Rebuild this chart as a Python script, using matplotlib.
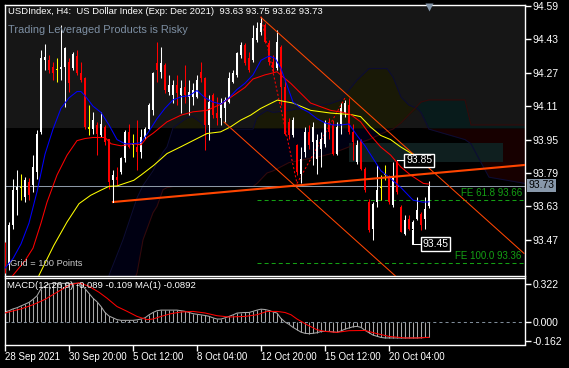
import numpy as np
import matplotlib
matplotlib.use("Agg")
import matplotlib.pyplot as plt
from matplotlib.patches import Rectangle

plt.rcParams['font.family'] = ['Liberation Sans', 'DejaVu Sans']
plt.rcParams['lines.scale_dashes'] = False

W, H = 569, 368

# ---- price bars (H4), index 0..106 ----
opens = [93.443, 93.347, 93.539, 93.707, 93.720, 93.675, 93.747, 93.731, 93.795, 93.987,
         94.331, 94.331, 94.299, 94.283, 94.288, 94.299, 94.323, 94.291, 94.352, 94.267,
         94.243, 94.003, 94.003, 94.019, 93.971, 94.011, 93.955, 93.755, 93.771, 93.795,
         93.860, 93.987, 93.924, 93.916, 93.892, 93.963, 94.003, 94.091, 94.315, 94.275,
         94.307, 94.179, 94.163, 94.211, 94.163, 94.203, 94.155, 94.155, 94.155, 94.275,
         94.243, 94.019, 94.163, 94.075, 94.051, 94.099, 94.131, 94.227, 94.259, 94.355,
         94.403, 94.339, 94.331, 94.427, 94.467, 94.499, 94.411, 94.323, 94.291, 94.395,
         94.200, 94.035, 93.971, 93.923, 93.787, 93.891, 93.987, 93.939, 93.859, 93.907,
         93.931, 94.035, 94.019, 93.883, 94.027, 94.075, 94.115, 93.987, 93.843, 93.947,
         93.811, 93.651, 93.523, 93.651, 93.720, 93.780, 93.771, 93.635, 93.843, 93.627,
         93.499, 93.571, 93.523, 93.571, 93.595, 93.571, 93.630]
highs = [93.459, 93.555, 93.763, 93.803, 93.787, 93.771, 93.766, 93.875, 93.995, 94.379,
         94.406, 94.355, 94.323, 94.339, 94.499, 94.395, 94.339, 94.371, 94.379, 94.323,
         94.251, 94.118, 94.083, 94.035, 94.083, 94.019, 93.955, 93.803, 93.819, 93.868,
         93.995, 94.027, 93.979, 94.043, 94.003, 94.011, 94.123, 94.275, 94.419, 94.395,
         94.315, 94.259, 94.235, 94.259, 94.235, 94.307, 94.235, 94.219, 94.259, 94.323,
         94.251, 94.163, 94.171, 94.155, 94.147, 94.155, 94.275, 94.283, 94.371, 94.419,
         94.411, 94.371, 94.499, 94.515, 94.539, 94.507, 94.427, 94.355, 94.475, 94.403,
         94.235, 94.051, 94.059, 93.930, 93.915, 94.011, 94.019, 94.035, 93.979, 93.987,
         94.043, 94.051, 94.043, 94.035, 94.123, 94.139, 94.147, 94.027, 93.947, 93.955,
         93.819, 93.667, 93.651, 93.827, 93.780, 93.827, 93.779, 93.843, 93.851, 93.635,
         93.587, 93.587, 93.563, 93.675, 93.603, 93.675, 93.750]
lows = [93.310, 93.323, 93.523, 93.587, 93.659, 93.651, 93.659, 93.699, 93.763, 93.979,
        94.283, 94.267, 94.235, 94.227, 94.235, 94.107, 94.179, 94.283, 94.259, 94.227,
        94.003, 93.971, 93.979, 93.876, 93.963, 93.923, 93.715, 93.651, 93.731, 93.787,
        93.844, 93.908, 93.868, 93.803, 93.860, 93.955, 93.995, 94.067, 94.227, 94.243,
        94.171, 94.163, 94.123, 94.115, 94.075, 94.123, 94.067, 94.115, 94.147, 94.227,
        93.899, 93.947, 94.051, 94.019, 94.019, 94.035, 94.123, 94.219, 94.251, 94.339,
        94.307, 94.275, 94.323, 94.419, 94.451, 94.411, 94.307, 94.275, 94.283, 94.115,
        93.971, 93.955, 93.963, 93.780, 93.740, 93.867, 93.907, 93.827, 93.787, 93.819,
        93.915, 93.955, 93.875, 93.875, 93.979, 94.059, 93.979, 93.851, 93.835, 93.803,
        93.699, 93.507, 93.467, 93.627, 93.660, 93.755, 93.643, 93.627, 93.691, 93.507,
        93.491, 93.515, 93.451, 93.563, 93.515, 93.523, 93.620]
closes = [93.355, 93.539, 93.707, 93.723, 93.720, 93.755, 93.683, 93.819, 93.979, 94.339,
          94.347, 94.283, 94.267, 94.283, 94.299, 94.387, 94.219, 94.358, 94.267, 94.235,
          94.011, 94.003, 94.043, 93.979, 94.027, 93.939, 93.747, 93.779, 93.755, 93.860,
          93.987, 93.916, 93.924, 93.892, 93.963, 94.003, 94.115, 94.267, 94.283, 94.315,
          94.187, 94.211, 94.211, 94.171, 94.195, 94.163, 94.179, 94.187, 94.235, 94.243,
          94.019, 94.131, 94.067, 94.051, 94.123, 94.139, 94.243, 94.267, 94.363, 94.403,
          94.315, 94.283, 94.435, 94.483, 94.507, 94.419, 94.323, 94.291, 94.419, 94.200,
          93.979, 93.971, 94.043, 93.795, 93.859, 93.987, 93.923, 94.011, 93.947, 93.955,
          94.035, 93.987, 93.883, 94.011, 94.099, 94.123, 93.987, 93.939, 93.923, 93.811,
          93.707, 93.515, 93.643, 93.707, 93.720, 93.780, 93.651, 93.771, 93.699, 93.507,
          93.563, 93.523, 93.555, 93.611, 93.539, 93.619, 93.730]
doji_bars = [4, 13, 21, 32, 94, 95]

# ---- moving averages (read at sample bars) ----
ma_fast_idx = [-0.2, 2, 4, 6, 8, 10, 12, 14, 16, 18, 19, 20, 22, 24, 26, 28, 30, 32, 34, 36, 38, 40,
               42, 44, 46, 48, 50, 52, 54, 56, 58, 60, 62, 64, 66, 67.5, 69, 70.5, 72, 74, 76, 78,
               80, 82, 84, 86, 88, 90, 92, 94, 96, 99, 102, 104.5, 106]
ma_fast = [93.33, 93.38, 93.45, 93.55, 93.70, 93.88, 94.00, 94.10, 94.15, 94.18, 94.18, 94.16, 94.11,
           94.08, 94.02, 93.95, 93.93, 93.93, 93.935, 93.99, 94.05, 94.10, 94.14, 94.155, 94.16, 94.185,
           94.15, 94.13, 94.12, 94.15, 94.19, 94.22, 94.26, 94.33, 94.35, 94.34, 94.29, 94.21, 94.13,
           94.10, 94.08, 94.05, 94.03, 94.02, 94.02, 94.025, 93.97, 93.92, 93.86, 93.80, 93.77, 93.72,
           93.66, 93.65, 93.652]
ma_mid_idx = [-0.2, 2, 5, 7, 9, 10.5, 13, 15.5, 18, 20, 22, 25, 26.5, 29, 32, 34, 35.5, 37, 40.5, 44,
              47, 50.5, 54, 57, 60, 62, 65, 66.5, 68, 69.5, 71.4, 76.4, 81.4, 84.6, 86.4, 88.9, 91.4,
              93.9, 96.4, 98.9, 101.4, 104.6, 106]
ma_mid = [93.24, 93.30, 93.37, 93.43, 93.55, 93.65, 93.78, 93.875, 93.945, 93.955, 93.96, 93.96, 93.93,
          93.92, 93.93, 93.925, 93.96, 93.98, 94.035, 94.067, 94.083, 94.09, 94.12, 94.16, 94.20, 94.24,
          94.26, 94.267, 94.275, 94.25, 94.22, 94.125, 94.09, 94.08, 94.07, 94.035, 93.97, 93.915,
          93.876, 93.82, 93.78, 93.74, 93.737]
ma_slow_idx = [7, 8.5, 12.2, 15.5, 18.5, 21.4, 23.9, 26, 28, 32.2, 34, 37.2, 40.5, 43.9, 47.2, 50.5,
               53.9, 56.4, 58.9, 61.4, 63.9, 66.4, 68.1, 70, 72, 76.4, 81.4, 86.4, 88.9, 91.4, 93.9,
               96.4, 98.9, 101.4, 103.1, 106]
ma_slow = [93.20, 93.30, 93.443, 93.555, 93.643, 93.683, 93.707, 93.726, 93.728, 93.755, 93.78, 93.827,
           93.883, 93.915, 93.947, 93.979, 93.987, 94.011, 94.043, 94.067, 94.099, 94.123, 94.139,
           94.132, 94.125, 94.09, 94.077, 94.07, 94.06, 94.01, 93.97, 93.95, 93.915, 93.886, 93.87,
           93.855]

# ---- ichimoku cloud ----
cloud_idx = [25, 26, 29.5, 33, 34.5, 37, 38, 39.5, 40.5, 42, 45.5, 47, 49, 50.5, 62, 63, 65.5, 67, 71,
             79, 81, 84, 88, 91, 95.5, 97, 99, 101, 103, 104, 106, 115, 116.5, 119, 121, 130]
span_a = [93.15, 93.30, 93.47, 93.67, 93.73, 93.80, 93.84, 93.89, 93.915, 94.006, 94.055, 94.06, 94.03,
          94.00, 94.00, 94.06, 94.09, 94.08, 94.09, 94.115, 94.12, 94.14, 94.235, 94.29, 94.29, 94.25,
          94.154, 94.115, 94.10, 94.08, 94.00, 93.95, 93.93, 93.84, 93.77, 93.74]
span_b = [93.00, 93.05, 93.15, 93.31, 93.47, 93.60, 93.63, 93.71, 93.72, 93.725, 93.725, 93.725, 93.725,
          93.725, 93.725, 93.74, 93.79, 93.80, 93.84, 93.87, 93.88, 93.90, 93.93, 93.95, 93.99, 94.00,
          94.03, 94.07, 94.11, 94.13, 94.14, 94.14, 94.02, 94.02, 94.02, 94.02]
zone_low = 94.006          # grey zone from here to top
box_idx = [85.9, 124.5]    # teal zone box
box_price = [93.843, 93.934]

# ---- drawn objects ----
chan_top_idx = [64, 129.75]
chan_top = [94.535, 93.405]
chan_low_idx = [54.75, 98]
chan_low = [94.034, 93.29]
rise_idx = [27, 129.75]
rise = [93.651, 93.828]
fe_idx = [64, 73, 85]
fe_price = [94.54, 93.74, 94.15]
fe_levels = [93.66, 93.36]
fe_names = ['FE 61.8 93.66', 'FE 100.0 93.36']
bid = 93.73

# ---- MACD ----
macd = [0.085, 0.095, 0.11, 0.12, 0.135, 0.15, 0.165, 0.19, 0.22, 0.28,
        0.30, 0.32, 0.325, 0.325, 0.325, 0.325, 0.325, 0.325, 0.325, 0.32,
        0.28, 0.24, 0.20, 0.17, 0.13, 0.08, 0.05, 0.035, 0.02, 0.014,
        0.014, 0.014, 0.014, 0.018, 0.025, 0.035, 0.06, 0.08, 0.095, 0.10,
        0.10, 0.10, 0.10, 0.10, 0.095, 0.09, 0.08, 0.07, 0.065, 0.06,
        0.055, 0.048, 0.035, 0.025, 0.025, 0.035, 0.047, 0.06, 0.075, 0.078,
        0.08, 0.08, 0.09, 0.10, 0.108, 0.105, 0.097, 0.085, 0.075, 0.03,
        0.0, -0.02, -0.045, -0.065, -0.085, -0.095, -0.098, -0.095, -0.09, -0.08,
        -0.079, -0.079, -0.083, -0.087, -0.075, -0.06, -0.05, -0.04, -0.037, -0.045,
        -0.07, -0.09, -0.11, -0.12, -0.13, -0.134, -0.134, -0.134, -0.134, -0.134,
        -0.134, -0.134, -0.134, -0.134, -0.132, -0.13, -0.13]
signal_idx = [0, 4, 7, 10, 13, 16, 18.5, 21, 23.5, 25.5, 28, 30.5, 33, 35.5, 37, 39, 41.5, 44, 47, 50,
              53, 56, 60, 63, 65.5, 68, 70, 71.5, 73, 75.5, 78, 80, 83, 86, 90, 93, 96, 100, 103, 106]
signal = [0.076, 0.11, 0.145, 0.19, 0.25, 0.31, 0.33, 0.30, 0.25, 0.20, 0.13, 0.09, 0.047, 0.02, 0.025,
          0.047, 0.07, 0.084, 0.089, 0.076, 0.053, 0.042, 0.047, 0.061, 0.089, 0.089, 0.08, 0.061,
          0.025, -0.023, -0.065, -0.079, -0.087, -0.073, -0.071, -0.098, -0.121, -0.134, -0.134, -0.129]

price_ticks = [94.59, 94.43, 94.27, 94.11, 93.95, 93.79, 93.63, 93.47]
macd_ticks = [0.322, 0.0, -0.162]
date_idx = [0, 16, 32, 48, 64, 80, 96]
date_labels = ['28 Sep 2021', '30 Sep 20:00', '5 Oct 12:00', '8 Oct 04:00',
               '12 Oct 20:00', '15 Oct 12:00', '20 Oct 04:00']

# colours
C_ORANGE = '#ff4500'
C_BID = '#8c98a6'
C_GREEN = '#14a014'
LW = 0.75
FS = 7

fig = plt.figure(figsize=(W / 100, H / 100), dpi=100, facecolor='black')
ax = fig.add_axes([4.5 / W, 1 - 275.5 / H, 520 / W, 271 / H])
axm = fig.add_axes([4.5 / W, 1 - 344.5 / H, 520 / W, 67 / H])

XL = (-0.125, 129.875)
for a in (ax, axm):
    a.set_facecolor('black')
    a.set_xlim(*XL)
    for s in a.spines.values():
        s.set_color('white')
        s.set_linewidth(1)
    a.yaxis.tick_right()
    a.tick_params(axis='y', colors='white', length=4, width=1, pad=1.5, labelsize=7.5)

ax.set_ylim(93.299, 94.597)
axm.set_ylim(-0.189, 0.374)

# grey zone + cloud
ax.axhspan(zone_low, 95, color='#161616', lw=0, zorder=0.2)
cx = np.array(cloud_idx)
sa = np.array(span_a)
sb = np.array(span_b)
lo = np.minimum(sa, sb)
hi = np.maximum(sa, sb)
bull = sa >= sb
ax.fill_between(cx, np.minimum(lo, zone_low), np.minimum(hi, zone_low), where=bull,
                interpolate=True, color='#000012', lw=0, zorder=0.3)
ax.fill_between(cx, np.maximum(lo, zone_low), np.maximum(hi, zone_low), where=bull,
                interpolate=True, color='#191906', lw=0, zorder=0.3)
ax.fill_between(cx, np.minimum(lo, zone_low), np.minimum(hi, zone_low), where=~bull,
                interpolate=True, color='#170000', lw=0, zorder=0.3)
ax.fill_between(cx, np.maximum(lo, zone_low), np.maximum(hi, zone_low), where=~bull,
                interpolate=True, color='#081b1b', lw=0, zorder=0.3)
ax.plot(cx, sa, color='#0c0c34', lw=LW, zorder=0.4)
ax.plot(cx, sb, color='#340a0a', lw=LW, zorder=0.4)
ax.add_patch(Rectangle((box_idx[0], box_price[0]), box_idx[1] - box_idx[0],
                       box_price[1] - box_price[0], color='#0f1f1f', lw=0, zorder=0.35))

# fibo expansion
ax.plot(fe_idx, fe_price, color='#ff0000', lw=LW, ls=(0, (1.5, 1.5)), zorder=2)
for lev, name in zip(fe_levels, fe_names):
    ax.plot([63, XL[1]], [lev, lev], color=C_GREEN, lw=LW, dashes=(2.9, 2.2), zorder=2)
    ax.text(129.2, lev + 0.01, name, color=C_GREEN, fontsize=FS, ha='right', va='bottom', zorder=3)

# bid line
ax.axhline(bid, color=C_BID, lw=LW, zorder=2)

# candles
idx = np.arange(len(opens))
o = np.array(opens); c = np.array(closes)
cols = np.where(c > o, 'white', '#ff0000').astype(object)
for d in doji_bars:
    cols[d] = '#ffff00'
ax.vlines(idx, lows, highs, colors=list(cols), lw=LW, zorder=3)
ax.bar(idx, np.maximum(np.abs(c - o), 0.005), bottom=np.minimum(o, c), width=0.72,
       color=list(cols), lw=0, zorder=3)

# moving averages
ax.plot(ma_slow_idx, ma_slow, color='#ffff00', lw=LW, zorder=4)
ax.plot(ma_mid_idx, ma_mid, color='#ff0000', lw=LW, zorder=4)
ax.plot(ma_fast_idx, ma_fast, color='#0000ff', lw=LW, zorder=4)

# trend lines
ax.plot(chan_top_idx, chan_top, color=C_ORANGE, lw=LW, zorder=5)
ax.plot(chan_low_idx, chan_low, color=C_ORANGE, lw=LW, zorder=5)
ax.plot(rise_idx, rise, color=C_ORANGE, lw=1.5, zorder=5)
ax.plot([rise_idx[0], rise_idx[0]], [rise[0], bid], color='white', lw=LW, zorder=5)

# high / low labels
ax.plot([98, 100.3], [93.85, 93.85], color='white', lw=LW, zorder=6)
ax.text(103.6, 93.85, '93.85', color='white', fontsize=FS + 0.5, ha='center', va='center', zorder=7,
        bbox=dict(boxstyle='square,pad=0.18', fc='black', ec='white', lw=1))
ax.plot([101.8, 101.8, 104.3], [93.517, 93.45, 93.45], color='white', lw=LW, zorder=6)
ax.text(107.6, 93.45, '93.45', color='white', fontsize=FS + 0.5, ha='center', va='center', zorder=7,
        bbox=dict(boxstyle='square,pad=0.18', fc='black', ec='white', lw=1))

# shift marker
ax.plot([106], [94.5865], marker='v', ms=6, color='#8395a8', mec='none', clip_on=False, zorder=8)

ax.set_xticks([])
ax.set_yticks(price_ticks)
ax.set_yticklabels(['%.2f' % t for t in price_ticks])

# MACD panel
axm.axhline(0, color='#7f8c99', lw=LW, dashes=(2.2, 2.2), zorder=1)
axm.vlines(idx, 0, macd, colors='#a8a8a8', lw=LW, zorder=2)
axm.plot(idx, macd, color='#a8a8a8', lw=LW, zorder=2)
axm.plot(signal_idx, signal, color='#ff0000', lw=LW, zorder=3)
axm.set_yticks(macd_ticks)
axm.set_yticklabels(['0.322', '0.000', '-0.162'])
axm.set_xticks(date_idx)
axm.set_xticklabels(date_labels, ha='left')
axm.tick_params(axis='x', colors='white', length=4, width=1, pad=1.5, labelsize=FS)

# texts
def px(x, y):
    return x / W, 1 - y / H

fig.text(*px(8, 11), 'USDIndex, H4:  US Dollar Index (Exp: Dec 2021)  93.63 93.75 93.62 93.73',
         color='white', fontsize=6.8, va='center', ha='left')
fig.text(*px(8, 30), 'Trading Leveraged Products is Risky', color='#7d8fa3', fontsize=7.9,
         va='center', ha='left')
fig.text(*px(10, 263), 'Grid = 100 Points', color='#c8c8c8', fontsize=6.7, va='center', ha='left')
fig.text(*px(7, 286), 'MACD(12,26,9) -0.089 -0.109 MA(1) -0.0892', color='white', fontsize=6.8,
         va='center', ha='left')
fig.text(*px(541.5, 185.5), '93.73', color='black', fontsize=7.5, va='center', ha='center',
         bbox=dict(boxstyle='square,pad=0.12', fc='#8898aa', ec='none'))

fig.savefig('out.png', dpi=100, facecolor='black')
